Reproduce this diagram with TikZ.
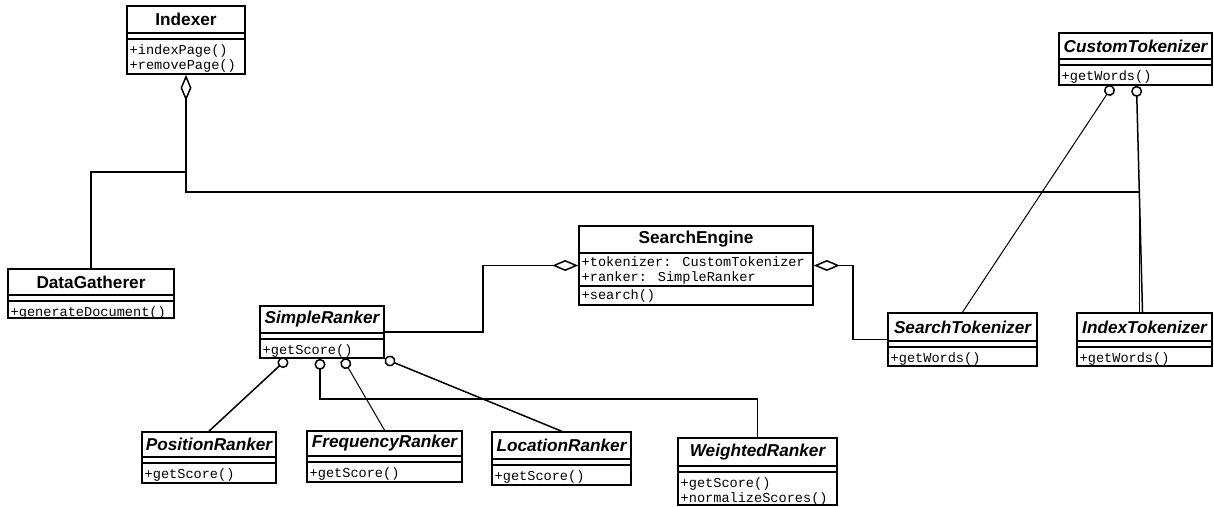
\documentclass[tikz,border=0pt]{standalone}
\usepackage{fontspec}
\newfontfamily\titrefont{Liberation Sans}
\newfontfamily\codefont{Liberation Mono}
\usetikzlibrary{arrows.meta}

\tikzset{
  boite/.style={draw, line width=1.7pt, fill=white, inner sep=0pt},
  trait/.style={line width=1.4pt},
  titre/.style={font=\titrefont\bfseries\fontsize{17.2}{19}\selectfont, inner sep=0pt},
  meth/.style={font=\codefont\fontsize{13.6}{15}\selectfont, align=left, inner sep=1.5pt, anchor=north west, xshift=1pt, yshift=-4pt},
  lien/.style={line width=1.5pt},
  lienfin/.style={line width=1pt},
  agreg/.style={lien, {Diamond[open, length=26pt, width=11pt, line width=1.5pt]}-},
  herit/.style={{Circle[open, length=11pt, line width=1.5pt]}-}
}

% nom, gauche, haut, largeur, hauteur, hauteur titre, titre, methodes
\newcommand{\classe}[8]{%
  \node[boite, minimum width=#4pt, minimum height=#5pt] (#1) at (#2+#4/2, #3+#5/2) {};
  \node[titre] (#1-t) at (#2+#4/2, #3+#6/2) {#7};
  \draw[trait] (#2, #3+#6) -- ++(#4, 0);
  \draw[trait] (#2, #3+#6+6) -- ++(#4, 0);
  \node[meth] (#1-m) at (#2, #3+#6+6) {#8};
}

\begin{document}
\begin{tikzpicture}[x=1pt, y=-1pt]
      \useasboundingbox (0,0) rectangle (1214,506);

      %classes
      \classe{IX}{127}{6}{118}{68}{27}{Indexer}{+indexPage()\\+removePage()}
      \classe{DG}{8}{269}{166}{49}{26}{DataGatherer}{+generateDocument()}
      \classe{CT}{1059}{33}{153}{52}{26}{\itshape CustomTokenizer}{+getWords()}
      \classe{SR}{260}{306}{124}{52}{27}{\itshape SimpleRanker}{+getScore()}
      \classe{ST}{888}{313}{149}{53}{28}{\itshape SearchTokenizer}{+getWords()}
      \classe{IT}{1077}{313}{135}{53}{28}{\itshape IndexTokenizer}{+getWords()}
      \classe{PR}{142}{432}{134}{51}{25}{\itshape PositionRanker}{+getScore()}
      \classe{FR}{307}{431}{155}{51}{25}{\itshape FrequencyRanker}{+getScore()}
      \classe{LR}{492}{432}{139}{53}{27}{\itshape LocationRanker}{+getScore()}
      \classe{WR}{678}{438}{159}{67}{28}{\itshape WeightedRanker}{+getScore()\\+normalizeScores()}

      %searchengine (attributs)
      \node[boite, minimum width=234pt, minimum height=79pt] (SE) at (696, 265.5) {};
      \node[titre] (SE-t) at (696, 239.5) {SearchEngine};
      \draw[trait] (579,253) -- ++(234,0);
      \draw[trait] (579,286) -- ++(234,0);
      \node[meth, yshift=2pt] (SE-a) at (579,253) {+tokenizer: CustomTokenizer\\+ranker: SimpleRanker};
      \node[meth, yshift=2pt] (SE-m) at (579,286) {+search()};

      %agregations
      \coordinate (jonction) at (186,172);
      \draw[agreg] (IX.south) -- (186,192) -| ([xshift=-5pt]IT.north);
      \draw[lien] (DG.north) |- (jonction);
      \draw[agreg] (SE.west) -- ++(-95,0) |- (SR.east);
      \draw[agreg] (SE.east) -- ++(39,0) |- (ST.west);

      %heritages
      \draw[herit, lienfin] ([xshift=-23pt]CT.south) -- (ST.north);
      \draw[herit, lien] ([xshift=1pt]CT.south) -- ([xshift=-2pt]IT.north);
      \draw[herit, lien] ([xshift=-35pt]SR.south) -- (PR.north);
      \draw[herit, lienfin] ([xshift=21pt]SR.south) -- (FR.north);
      \draw[herit, lien] (SR.south east) -- (LR.north);
      \draw[herit, lien] ([xshift=-2pt]SR.south) -- ++(0,40) -| (WR.north);
    \end{tikzpicture}
\end{document}
